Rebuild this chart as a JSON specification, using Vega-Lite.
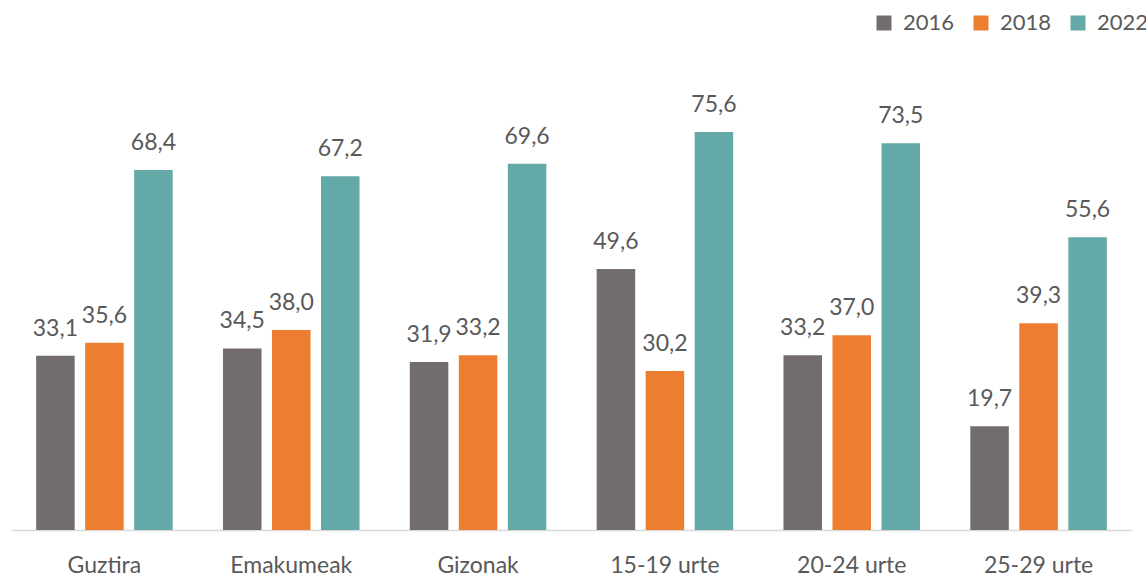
{
  "$schema": "https://vega.github.io/schema/vega-lite/v6.json",
  "autosize": {"type": "none"},
  "padding": {"left": 11, "top": 50, "right": 14, "bottom": 46},
  "width": 1121,
  "height": 480,
  "background": "white",
  "config": {"view": {"stroke": null}, "font": "Lato"},
  "data": {
    "values": [
      {"group": "Guztira", "year": "2016", "value": 33.1, "label": "33,1"},
      {"group": "Guztira", "year": "2018", "value": 35.6, "label": "35,6"},
      {"group": "Guztira", "year": "2022", "value": 68.4, "label": "68,4"},
      {"group": "Emakumeak", "year": "2016", "value": 34.5, "label": "34,5"},
      {"group": "Emakumeak", "year": "2018", "value": 38.0, "label": "38,0"},
      {"group": "Emakumeak", "year": "2022", "value": 67.2, "label": "67,2"},
      {"group": "Gizonak", "year": "2016", "value": 31.9, "label": "31,9"},
      {"group": "Gizonak", "year": "2018", "value": 33.2, "label": "33,2"},
      {"group": "Gizonak", "year": "2022", "value": 69.6, "label": "69,6"},
      {"group": "15-19 urte", "year": "2016", "value": 49.6, "label": "49,6"},
      {"group": "15-19 urte", "year": "2018", "value": 30.2, "label": "30,2"},
      {"group": "15-19 urte", "year": "2022", "value": 75.6, "label": "75,6"},
      {"group": "20-24 urte", "year": "2016", "value": 33.2, "label": "33,2"},
      {"group": "20-24 urte", "year": "2018", "value": 37.0, "label": "37,0"},
      {"group": "20-24 urte", "year": "2022", "value": 73.5, "label": "73,5"},
      {"group": "25-29 urte", "year": "2016", "value": 19.7, "label": "19,7"},
      {"group": "25-29 urte", "year": "2018", "value": 39.3, "label": "39,3"},
      {"group": "25-29 urte", "year": "2022", "value": 55.6, "label": "55,6"}
    ]
  },
  "encoding": {
    "x": {
      "field": "group", "type": "nominal", "sort": null,
      "scale": {"paddingInner": 0.213, "paddingOuter": 0.1065},
      "axis": {
        "title": null, "ticks": false, "labelAngle": 0,
        "labelFont": "Lato", "labelFontSize": 23, "labelColor": "#595959",
        "labelPadding": 24, "domainColor": "#D9D9D9", "domainWidth": 1.5
      }
    },
    "xOffset": {
      "field": "year", "type": "nominal",
      "scale": {"paddingInner": 0.214, "paddingOuter": 0.107}
    },
    "y": {
      "field": "value", "type": "quantitative",
      "scale": {"domain": [0, 91.2], "nice": false, "zero": true},
      "axis": null
    }
  },
  "layer": [
    {
      "mark": {"type": "bar"},
      "encoding": {
        "color": {
          "field": "year", "type": "nominal",
          "scale": {"domain": ["2016", "2018", "2022"], "range": ["#736E6D", "#ED7D31", "#62A9A7"]},
          "legend": {
            "title": null, "orient": "none", "direction": "horizontal",
            "legendX": 862, "legendY": -38, "padding": 0,
            "symbolType": "square", "symbolSize": 225, "symbolStrokeWidth": 0,
            "labelFont": "Lato", "labelFontSize": 22, "labelColor": "#595959",
            "labelOffset": 8, "columnPadding": 15
          }
        }
      }
    },
    {
      "mark": {"type": "text", "baseline": "alphabetic", "dy": -20, "font": "Lato", "fontSize": 23, "color": "#595959"},
      "encoding": {"text": {"field": "label"}}
    }
  ]
}
